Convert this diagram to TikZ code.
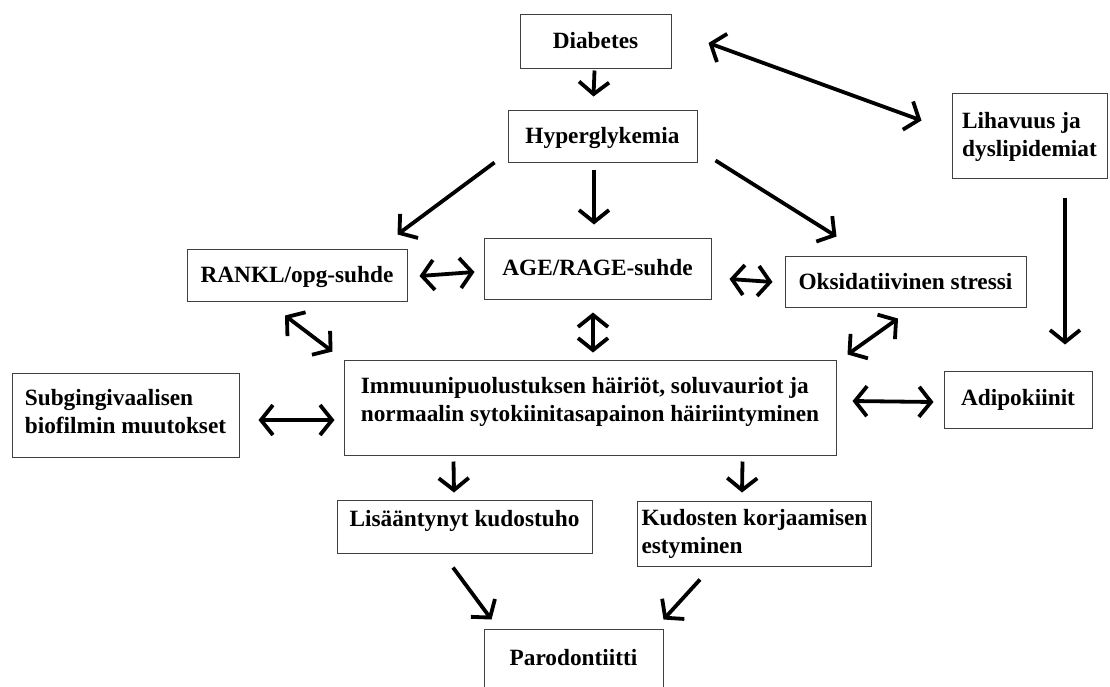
\documentclass[tikz,border=0pt]{standalone}
\usepackage{fontspec}
\setmainfont{Liberation Serif}
\usetikzlibrary{arrows.meta, positioning, calc}
\definecolor{boxgray}{RGB}{64,64,64}

\begin{document}
\begin{tikzpicture}[
    x=1pt, y=-1pt,
    block/.style={rectangle, draw=boxgray, line width=1pt, inner xsep=4pt, inner ysep=0pt,
                  font=\fontsize{23.3}{28}\selectfont\bfseries},
    arrow/.style={->, >={Straight Barb[length=12pt,width=30pt]}, line width=3.8pt},
    darrow/.style={arrow, <->}
]
    \useasboundingbox (0,0) rectangle (1110,686);

    % Top
    \node[block, minimum width=151pt, text height=34pt, text depth=20pt] (diab) at (595.5,41) {Diabetes};
    \node[block, minimum width=189pt, text height=33pt, text depth=19pt] (hyper) at (602.5,136) {Hyperglykemia};
    \node[block, minimum width=155pt, text height=63pt, text depth=22pt, align=left] (lih) at (1029.5,135.5) {Lihavuus ja\\dyslipidemiat};

    % Middle row
    \node[block, minimum width=220pt, text height=33pt, text depth=19pt] (rankl) at (297,275) {RANKL/opg-suhde};
    \node[block, minimum width=227pt, text height=37pt, text depth=24pt] (age) at (597.5,268.5) {AGE/RAGE-suhde};
    \node[block, minimum width=241pt, text height=33pt, text depth=18pt] (oks) at (905.5,281.5) {Oksidatiivinen stressi};

    % Centre row
    \node[block, minimum width=227pt, text height=60pt, text depth=24pt, align=left] (sub) at (125.5,415) {Subgingivaalisen\\biofilmin muutokset};
    \node[block, minimum width=492pt, text height=61pt, text depth=34pt, align=left] (imm) at (590,407.5) {Immuunipuolustuksen häiriöt, soluvauriot ja\\normaalin sytokiinitasapainon häiriintyminen};
    \node[block, minimum width=148pt, text height=34pt, text depth=23pt] (adi) at (1018,399.5) {Adipokiinit};

    % Bottom
    \node[block, minimum width=255pt, text height=26pt, text depth=27pt] (lis) at (464.5,526.5) {Lisääntynyt kudostuho};
    \node[block, minimum width=231pt, text height=52pt, text depth=13pt, align=left] (kud) at (754.5,533.5) {Kudosten korjaamisen\\estyminen};
    \node[block, minimum width=179pt, text height=36pt, text depth=35pt] (par) at (573.5,664.5) {Parodontiitti};

    % Arrows
    \draw[arrow] ($(diab.south)+(-1,2)$) -- ($(hyper.north)+(-9,-13)$);
    \draw[darrow] ($(diab.east)+(37,2)$) -- ($(lih.west)+(-30,-15)$);
    \draw[arrow] ($(hyper.south west)+(-13,0)$) -- ($(rankl.north east)+(-10,-14)$);
    \draw[arrow] ($(hyper.south)+(-8.5,7)$) -- ($(age.north)+(-3.5,-13)$);
    \draw[arrow] ($(hyper.south east)+(18,-2)$) -- ($(oks.north west)+(52,-19)$);
    \draw[darrow] ($(rankl.east)+(12,1)$) -- ($(age.west)+(-9,3.5)$);
    \draw[darrow] ($(age.east)+(18,10.5)$) -- ($(oks.west)+(-12,0.5)$);
    \draw[darrow] ($(age.south)+(-4.5,13)$) -- ($(imm.north)+(3,-7)$);
    \draw[darrow] ($(rankl.south)+(-12,14)$) -- ($(imm.north west)+(-11,-8)$);
    \draw[darrow] ($(oks.south)+(-7.5,11)$) -- ($(imm.north east)+(11,-5)$);
    \draw[arrow] ($(lih.south)+(35.5,19)$) -- ($(adi.north)+(47,-26)$);
    \draw[darrow] ($(sub.east)+(19,5)$) -- ($(imm.west)+(-9,12.5)$);
    \draw[darrow] ($(imm.east)+(16,-6.5)$) -- ($(adi.west)+(-10,2.5)$);
    \draw[arrow] ($(imm.south west)+(110,6)$) -- ($(lis.north)+(-10.5,-7)$);
    \draw[arrow] ($(imm.south east)+(-94,6)$) -- ($(kud.north)+(-12.5,-8)$);
    \draw[arrow] ($(lis.south)+(-11.5,14)$) -- ($(par.north west)+(8,-9)$);
    \draw[arrow] ($(kud.south)+(-54.5,13)$) -- ($(par.north east)+(0,-9)$);
\end{tikzpicture}
\end{document}
